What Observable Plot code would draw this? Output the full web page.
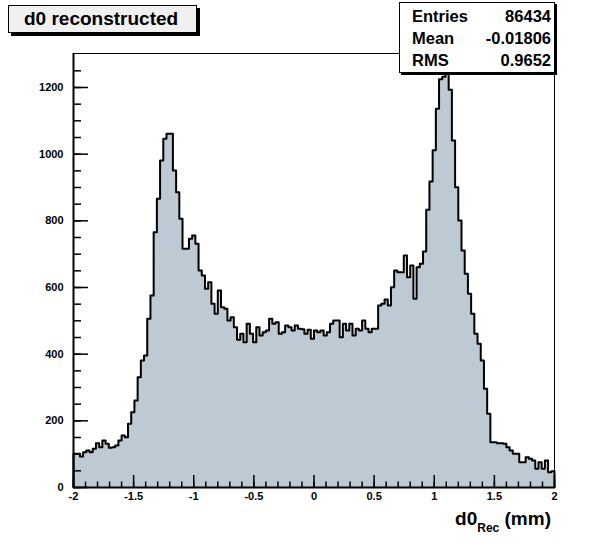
<!DOCTYPE html>
<html><head><meta charset="utf-8">
<script src="https://cdn.jsdelivr.net/npm/d3@7"></script>
<script src="https://cdn.jsdelivr.net/npm/@observablehq/plot@0.6"></script>
<style>
body{margin:0;background:#fff;}
#wrap{position:relative;width:609px;height:543px;font-family:"Liberation Sans",Arial,sans-serif;font-weight:bold;color:#000;}
#wrap svg{position:absolute;left:0;top:0;}
.box{position:absolute;border:1px solid #000;box-sizing:border-box;}
</style></head><body>
<div id="wrap"></div>
<script>
// bin contents of d0 reconstructed, 150 bins from -2 to 2 mm
const counts = [
  101, 101, 93, 106, 111, 106, 116, 133, 121, 141, 131, 119, 121, 126, 141, 156, 151, 191, 226, 261, 331, 381, 396, 506, 576,
  766, 866, 981, 1046, 1061, 1061, 951, 886, 806, 716, 716, 746, 756, 731, 651, 636, 596, 616, 551, 521, 591, 541, 536, 501, 511, 481,
  443, 461, 436, 491, 461, 436, 481, 456, 466, 471, 506, 491, 496, 461, 466, 486, 481, 471, 486, 476,
  475, 461, 473, 446, 471, 466, 471, 456, 466, 491, 501, 501, 451, 491, 471, 491, 456, 476, 471, 501, 476, 466, 476, 476,
  546, 551, 564, 546,
  601, 651, 646, 646, 696, 631, 666, 566, 661, 671, 708, 833, 918, 1012, 1136, 1225, 1232, 1248,
  1193, 1041, 901, 801, 711, 641, 581, 521, 461, 431, 381, 296, 221,
  136, 136, 133, 133, 131, 121, 111, 101, 101, 76, 76, 91, 86, 81, 56, 76, 56, 81, 46, 49
];
const xRange = [-2, 2];
const yRange = [0, 1302];
const xTicks = [-2, -1.5, -1, -0.5, 0, 0.5, 1, 1.5, 2];
const xTickLabels = ["-2", "-1.5", "-1", "-0.5", "0", "0.5", "1", "1.5", "2"];
const yTicks = [0, 200, 400, 600, 800, 1000, 1200];
const yTickLabels = ["0", "200", "400", "600", "800", "1000", "1200"];
const xMinorStep = 0.1;
const yMinorStep = 50;
const titleText = "d0 reconstructed";
const statNames = ["Entries", "Mean", "RMS"];
const statValues = ["86434", "-0.01806", "0.9652"];

const N = counts.length;
const w = (xRange[1] - xRange[0]) / N;
const steps = [{x: xRange[0], y: 0}];
counts.forEach((c, i) => {
  steps.push({x: xRange[0] + i * w, y: c});
  steps.push({x: xRange[0] + (i + 1) * w, y: c});
});
steps.push({x: xRange[1], y: 0});

const xMinor = d3.range(Math.round((xRange[1] - xRange[0]) / xMinorStep) + 1).map(i => +(xRange[0] + i * xMinorStep).toFixed(3));
const yMinor = d3.range(0, 1300, yMinorStep);

const chart = Plot.plot({
  width: 609, height: 543,
  marginLeft: 73, marginRight: 55, marginTop: 53, marginBottom: 56,
  x: {domain: xRange},
  y: {domain: yRange},
  style: {fontFamily: "Liberation Sans, Arial, sans-serif", fontWeight: "bold", fontSize: "11px", background: "transparent", overflow: "visible"},
  marks: [
    Plot.area(steps, {x1: "x", y1: 0, y2: "y", fill: "#bdc9d3"}),
    Plot.line(steps, {x: "x", y: "y", stroke: "#000", strokeWidth: 2}),
    Plot.frame({stroke: "#000", strokeWidth: 1}),
    Plot.ruleX([xRange[0]], {stroke: "#000", strokeWidth: 2}),
    Plot.ruleY([yRange[0]], {stroke: "#000", strokeWidth: 2}),
    Plot.axisY(yMinor, {anchor: "right", frameAnchor: "left", tickSize: 7, tickPadding: 0, tickFormat: () => "", label: null, strokeWidth: 1.5}),
    Plot.axisY(yTicks, {anchor: "right", frameAnchor: "left", tickSize: 14, tickPadding: 0, tickFormat: () => "", label: null, strokeWidth: 1.5}),
    Plot.axisY(yTicks, {anchor: "left", tickSize: 0, tickPadding: 10, label: null, fontSize: 11, fontWeight: "bold",
      tickFormat: d => yTickLabels[yTicks.indexOf(d)]}),
    Plot.axisX(xMinor, {anchor: "top", frameAnchor: "bottom", tickSize: 6.5, tickPadding: 0, tickFormat: () => "", label: null, strokeWidth: 1.5}),
    Plot.axisX(xTicks, {anchor: "top", frameAnchor: "bottom", tickSize: 13, tickPadding: 0, tickFormat: () => "", label: null, strokeWidth: 1.5}),
    Plot.axisX(xTicks, {anchor: "bottom", tickSize: 0, tickPadding: 5, label: null, fontSize: 11, fontWeight: "bold",
      tickFormat: d => xTickLabels[xTicks.indexOf(d)]})
  ]
});
const wrap = document.getElementById("wrap");
wrap.appendChild(chart);

// title box
const tb = document.createElement("div");
tb.className = "box";
Object.assign(tb.style, {left: "8px", top: "5px", width: "189px", height: "28px", background: "#f0f0f0",
  boxShadow: "3px 3px 0 #000", fontSize: "19px", lineHeight: "26px", paddingLeft: "15px", whiteSpace: "nowrap"});
tb.textContent = titleText;
wrap.appendChild(tb);

// stats box
const sb = document.createElement("div");
sb.className = "box";
Object.assign(sb.style, {left: "399px", top: "2px", width: "156px", height: "71px", background: "#fff",
  boxShadow: "2px 2px 0 #000"});
statNames.forEach((n, i) => {
  const l = document.createElement("div");
  Object.assign(l.style, {position: "absolute", left: "12px", top: (3 + i * 22) + "px", fontSize: "16.5px", lineHeight: "21px"});
  l.textContent = n;
  const r = document.createElement("div");
  Object.assign(r.style, {position: "absolute", right: "3px", top: (3 + i * 22) + "px", fontSize: "16.5px", lineHeight: "21px"});
  r.textContent = statValues[i];
  sb.appendChild(l); sb.appendChild(r);
});
wrap.appendChild(sb);

// x axis title
const xt = document.createElement("div");
Object.assign(xt.style, {position: "absolute", right: "58px", top: "508px", fontSize: "19px", whiteSpace: "nowrap"});
xt.innerHTML = 'd0<span style="font-size:12px;position:relative;top:7px;">Rec</span> (mm)';
wrap.appendChild(xt);
</script>
</body></html>
